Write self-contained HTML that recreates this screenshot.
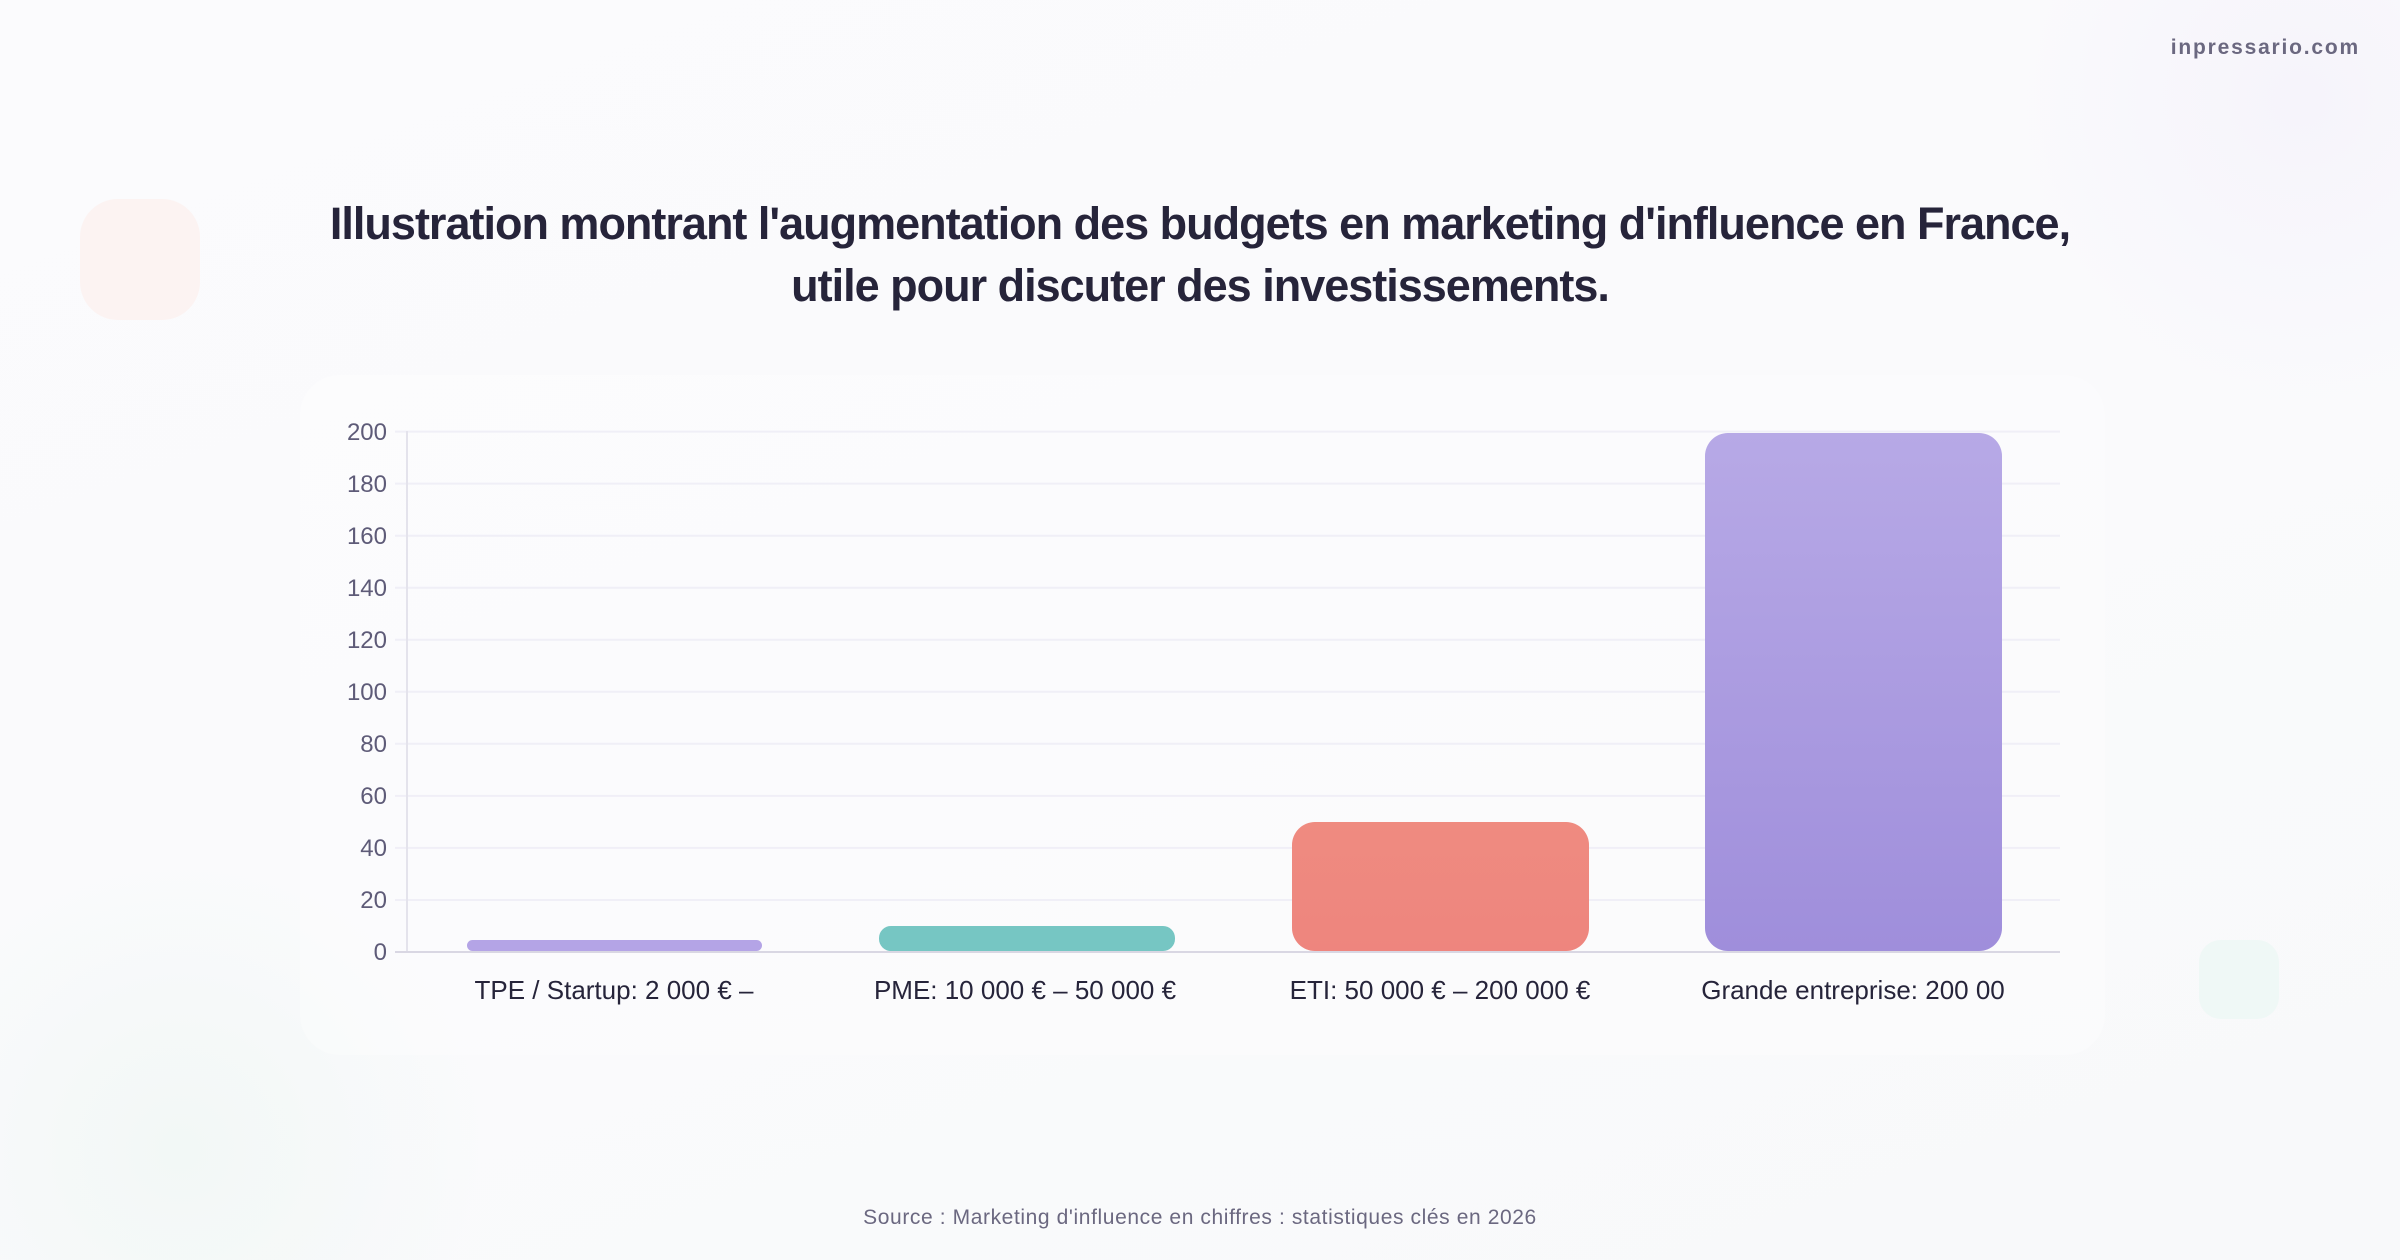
<!DOCTYPE html>
<html><head><meta charset="utf-8"><style>
html,body{margin:0;padding:0}
body{width:2400px;height:1260px;position:relative;overflow:hidden;background:linear-gradient(160deg,#fbfbfd 0%,#fafafc 50%,#f8f9fa 100%);font-family:"Liberation Sans",sans-serif}
.abs{position:absolute}
</style></head><body>
<div class="abs" style="left:0;top:0;width:2400px;height:1260px;background:radial-gradient(circle at 180px 1150px,#f2f8f6 0,rgba(242,248,246,0) 300px),radial-gradient(circle at 2300px 100px,#f6f4fb 0,rgba(246,244,251,0) 300px)"></div>
<div class="abs" style="left:300px;top:375px;width:1805px;height:680px;background:rgba(255,255,255,0.3);border-radius:40px"></div>
<div class="abs" style="left:80px;top:199px;width:120px;height:121px;border-radius:38px;background:#fcf3f2"></div>
<div class="abs" style="left:2199px;top:940px;width:80px;height:79px;border-radius:22px;background:#eff8f6"></div>
<div class="abs" style="left:2162px;top:36px;width:198px;text-align:right;font-size:21px;font-weight:bold;color:#6b6880;letter-spacing:1.8px">inpressario.com</div>
<div class="abs" style="left:0;top:193px;width:2400px;text-align:center;font-size:45px;font-weight:bold;color:#26243a;line-height:62px;letter-spacing:-1px">Illustration montrant l'augmentation des budgets en marketing d'influence en France,<br>utile pour discuter des investissements.</div>
<svg class="abs" style="left:0;top:0" width="2400" height="1260">
<defs>
<linearGradient id="g4" x1="0" y1="0" x2="0" y2="1"><stop offset="0" stop-color="#b7a9e6"/><stop offset="1" stop-color="#9f8edb"/></linearGradient>
<linearGradient id="g3" x1="0" y1="0" x2="0" y2="1"><stop offset="0" stop-color="#ef8b80"/><stop offset="1" stop-color="#ee857e"/></linearGradient>
</defs>
<g stroke="#f0eff7" stroke-width="2">
<line x1="395" x2="2060" y1="431.6" y2="431.6"/><line x1="395" x2="2060" y1="483.6" y2="483.6"/><line x1="395" x2="2060" y1="535.7" y2="535.7"/><line x1="395" x2="2060" y1="587.7" y2="587.7"/><line x1="395" x2="2060" y1="639.8" y2="639.8"/><line x1="395" x2="2060" y1="691.8" y2="691.8"/><line x1="395" x2="2060" y1="743.8" y2="743.8"/><line x1="395" x2="2060" y1="795.9" y2="795.9"/><line x1="395" x2="2060" y1="847.9" y2="847.9"/><line x1="395" x2="2060" y1="900" y2="900"/>
</g>
<line x1="407" x2="407" y1="431" y2="952" stroke="#e4e3ec" stroke-width="2"/>
<line x1="395" x2="2060" y1="952" y2="952" stroke="#d9d7e3" stroke-width="2"/>
<g font-size="24" fill="#5e5b78" text-anchor="end">
<text x="387" y="440">200</text><text x="387" y="492">180</text><text x="387" y="544">160</text><text x="387" y="596">140</text><text x="387" y="648">120</text><text x="387" y="700">100</text><text x="387" y="752">80</text><text x="387" y="804">60</text><text x="387" y="856">40</text><text x="387" y="908">20</text><text x="387" y="960">0</text>
</g>
<rect x="467" y="940" width="295" height="11" rx="5.5" fill="#b4a4e6"/>
<rect x="879" y="926" width="296" height="25" rx="12" fill="#76c6c3"/>
<rect x="1292" y="822" width="297" height="129" rx="23" fill="url(#g3)"/>
<rect x="1705" y="433" width="297" height="518" rx="23" fill="url(#g4)"/>
<g font-size="26" fill="#26243a" text-anchor="middle">
<text x="614" y="999">TPE / Startup: 2 000 € –</text>
<text x="1025" y="999">PME: 10 000 € – 50 000 €</text>
<text x="1440" y="999">ETI: 50 000 € – 200 000 €</text>
<text x="1853" y="999">Grande entreprise: 200 00</text>
</g>
<text x="1200" y="1224" font-size="21" fill="#6b6880" text-anchor="middle" letter-spacing="0.6">Source : Marketing d'influence en chiffres : statistiques clés en 2026</text>
</svg>
</body></html>
